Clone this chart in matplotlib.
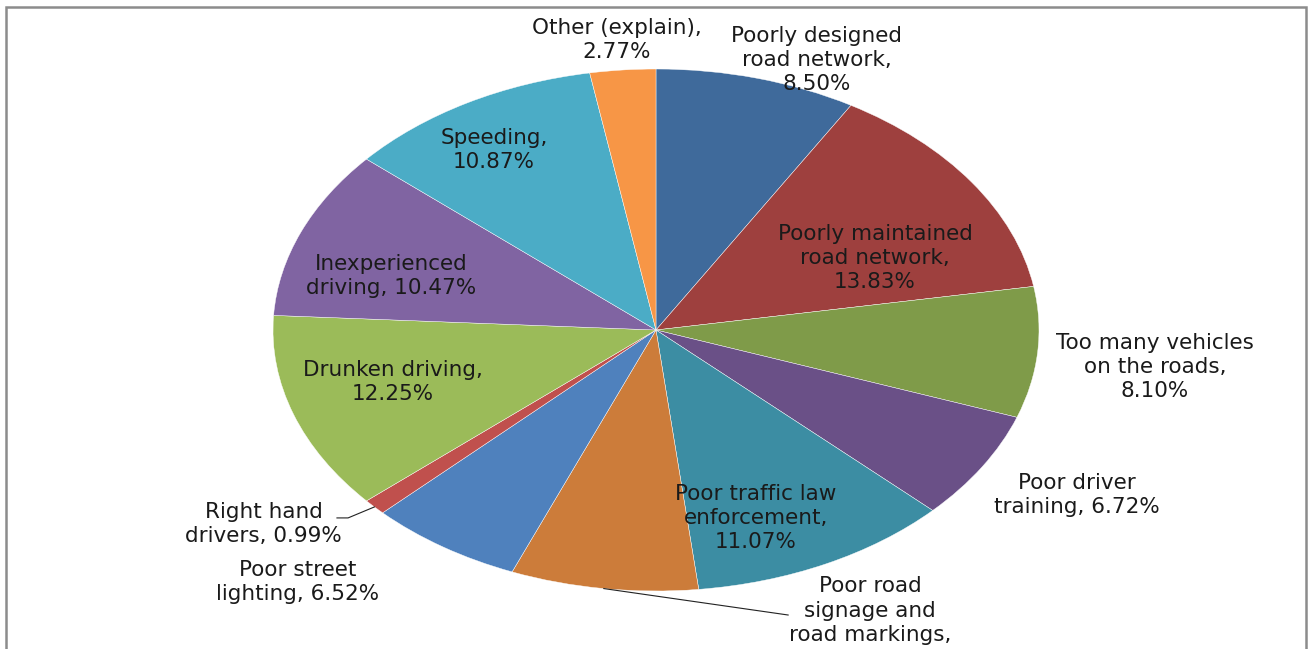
import numpy as np
import matplotlib
matplotlib.use('Agg')
import matplotlib.pyplot as plt
from matplotlib.patches import Rectangle

# Causes of road accidents (share of responses, %)
categories = [
    'Poorly designed\nroad network,',
    'Poorly maintained\nroad network,',
    'Too many vehicles\non the roads,',
    'Poor driver\ntraining,',
    'Poor traffic law\nenforcement,',
    'Poor road\nsignage and\nroad markings,',
    'Poor street\nlighting,',
    'Right hand\ndrivers,',
    'Drunken driving,',
    'Inexperienced\ndriving,',
    'Speeding,',
    'Other (explain),',
]
values = [8.50, 13.83, 8.10, 6.72, 11.07, 7.91, 6.52, 0.99, 12.25, 10.47, 10.87, 2.77]

# Whether the percentage goes on its own line
pct_newline = [True, True, True, False, True, True, False, False, True, False, True, True]

colors = ['#3F6A9B', '#9E403E', '#7F9B49', '#6A5087', '#3C8DA3', '#CC7C3A',
          '#4F81BD', '#C0504D', '#9BBB59', '#8064A2', '#4BACC6', '#F79646']

# label centres in axes data units (pie radius = 1)
label_xy = [(0.420, 1.034), (0.572, 0.276), (1.303, -0.142), (1.099, -0.632),
            (0.261, -0.720), (0.559, -1.122), (-0.935, -0.966), (-1.024, -0.743),
            (-0.687, -0.199), (-0.692, 0.207), (-0.423, 0.690), (-0.102, 1.111)]

W, H = 1311, 649
fig = plt.figure(figsize=(W / 100, H / 100), dpi=100)
ax = fig.add_axes([0, 0, 1, 1])

wedges, _ = ax.pie(values, colors=colors, startangle=90, counterclock=False,
                   wedgeprops=dict(edgecolor='white', linewidth=0.3))

# ellipse: stretch horizontally like the original
cx, cy, rx, ry = 656, 330, 383, 261
ax.set_aspect('auto')
ax.set_xlim(-cx / rx, (W - cx) / rx)
ax.set_ylim(-(H - cy) / ry, cy / ry)
ax.axis('off')

for i, (cat, v) in enumerate(zip(categories, values)):
    sep = '\n' if pct_newline[i] else ' '
    txt = f'{cat}{sep}{v:.2f}%'
    x, y = label_xy[i]
    ax.text(x, y, txt, ha='center', va='center', fontsize=15.5,
            color='#1a1a1a', linespacing=1.27, family='DejaVu Sans')

# leader lines for the two labels placed away from their slices
def mid_angle(w):
    return np.deg2rad((w.theta1 + w.theta2) / 2)

a = mid_angle(wedges[5])
ax.plot([np.cos(a), 0.345], [np.sin(a), -1.092], color='#222222', lw=0.8)
a = mid_angle(wedges[7])
ax.plot([np.cos(a), -0.804, -0.833], [np.sin(a), -0.720, -0.720],
        color='#222222', lw=0.8)

# chart border
fig.patches.append(Rectangle((6 / W, -0.05), 1300 / W, 1.05 - 7 / H,
                             transform=fig.transFigure, fill=False,
                             edgecolor='#8c8c8c', linewidth=1.8))

fig.savefig('out.png', dpi=100)
